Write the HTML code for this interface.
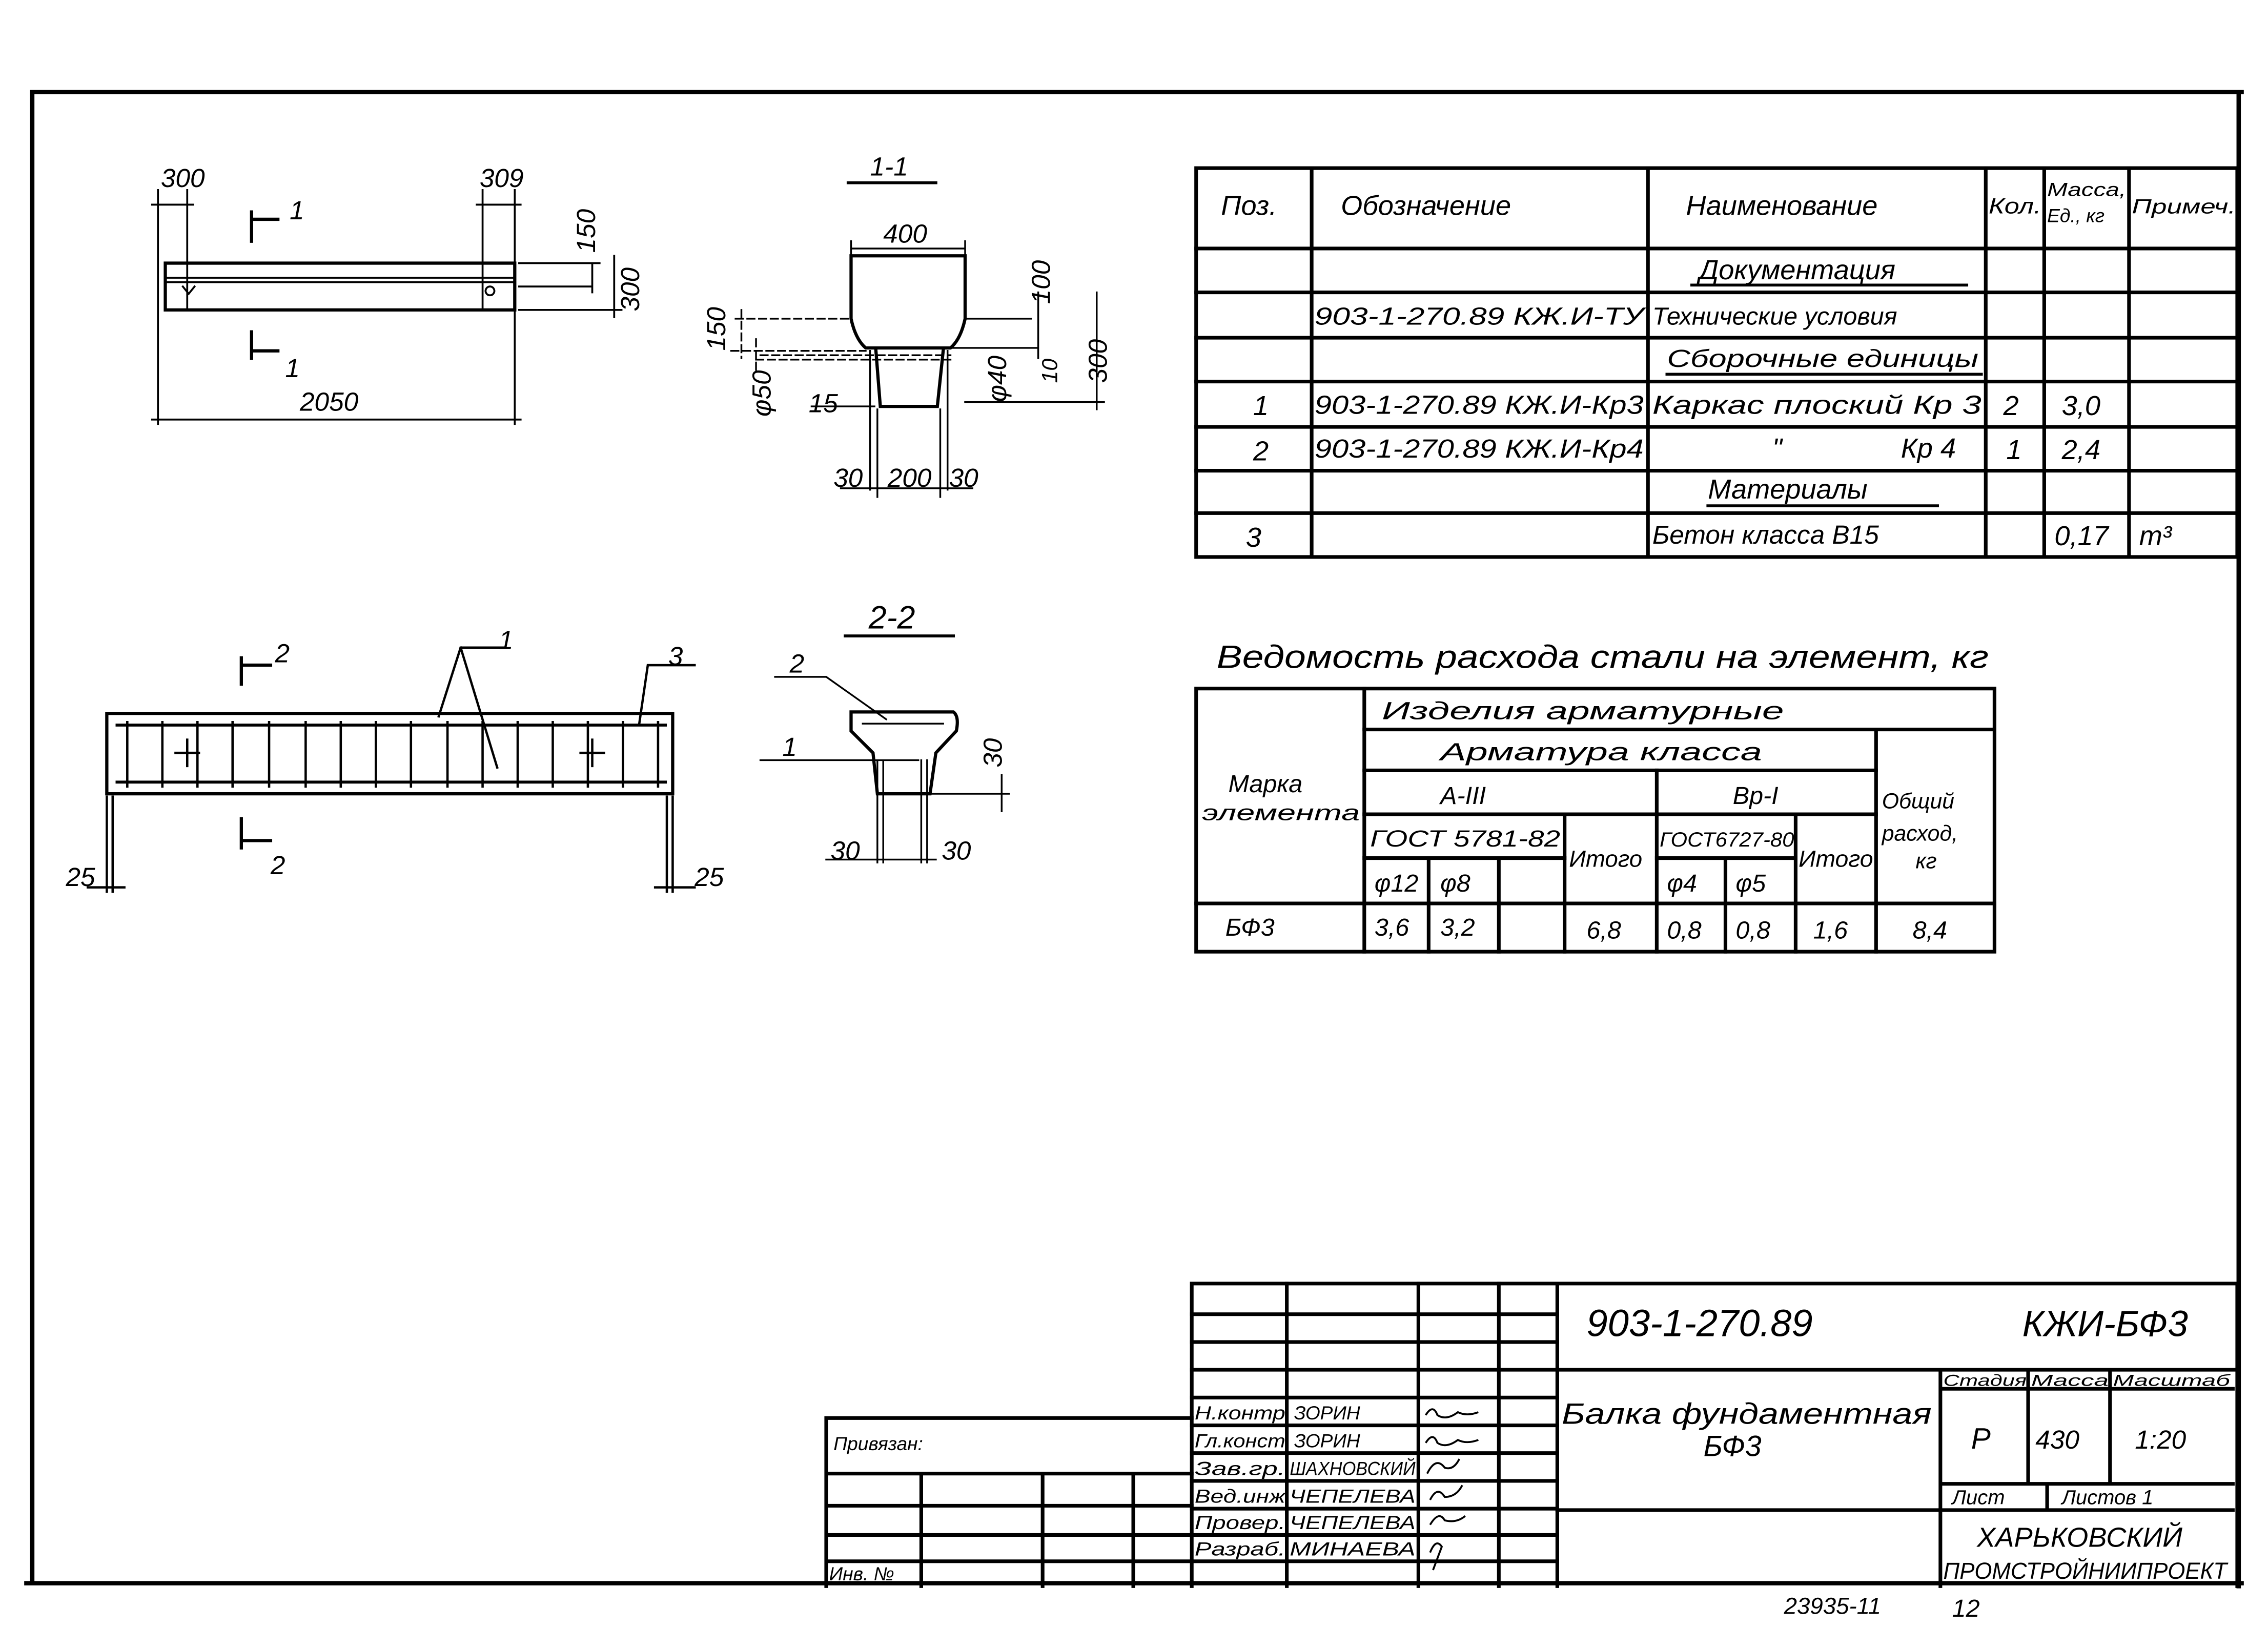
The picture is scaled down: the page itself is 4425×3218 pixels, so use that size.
<!DOCTYPE html>
<html><head><meta charset="utf-8"><style>
html,body{margin:0;padding:0;background:#fff}
svg{display:block}
text{font-family:"Liberation Sans","DejaVu Sans",sans-serif;font-style:italic;fill:#000}
</style></head><body>
<svg width="4425" height="3218" viewBox="0 0 1551 1128" xmlns="http://www.w3.org/2000/svg">
<rect width="1551" height="1128" fill="#fff"/>
<g stroke="#000" fill="none" stroke-linecap="square">
<!-- frame -->
<path d="M22 63 H1533 M22 63 V1083 M18 1083 H1533 M1531 63 V1085" stroke-width="3"/>

<!-- spec table -->
<g stroke-width="2.5">
<rect x="818" y="115" width="712" height="266"/>
<path d="M818 170 H1530 M818 200 H1530 M818 231 H1530 M818 261 H1530 M818 292 H1530 M818 322 H1530 M818 351 H1530"/>
<path d="M897 115 V381 M1127 115 V381 M1358 115 V381 M1398 115 V381 M1456 115 V381"/>
</g>
<path d="M1157 195 H1345 M1140 256 H1355 M1168 346 H1325" stroke-width="2"/>

<!-- steel table -->
<g stroke-width="2.5">
<rect x="818" y="471" width="546" height="180"/>
<path d="M818 618 H1364 M933 499 H1364 M933 527 H1283 M933 557 H1283 M933 587 H1070 M1133 587 H1228"/>
<path d="M933 471 V651 M1283 499 V651 M1133 527 V651 M1070 557 V651 M1228 557 V651 M977 587 V651 M1025 587 V651 M1180 587 V651"/>
</g>

<!-- title block -->
<g stroke-width="2.5">
<path d="M815 878 H1530 M815 878 V1085 M1065 878 V1085 M1530 878 V1085"/>
<path d="M815 899 H1065 M815 918 H1065 M815 937 H1530 M815 956 H1065 M815 975 H1065 M815 994 H1065 M815 1013 H1065 M815 1032 H1065 M815 1050 H1065 M815 1068 H1065"/>
<path d="M880 878 V1085 M970 878 V1085 M1025 878 V1085"/>
<path d="M1327 937 V1085 M1327 950 H1527 M1327 1015 H1527 M1327 1033 H1527 M1065 1033 H1327 M1387 937 V1015 M1443 937 V1015 M1400 1015 V1033"/>
<path d="M565 970 H815 M565 970 V1085 M565 1008 H815 M565 1030 H815 M565 1050 H815 M565 1068 H815 M630 1008 V1085 M713 1008 V1085 M775 1008 V1085"/>
</g>

<!-- top beam elevation -->
<g stroke-width="2.2">
<rect x="113" y="180" width="239" height="32"/>
<path d="M113 190 H352 M113 193 H352" stroke-width="1.3"/>
</g>
<g stroke-width="1.3">
<path d="M108 130 V290 M128 130 V212 M330 130 V212 M352 130 V290 M104 140 H132 M326 140 H356 M104 287 H356"/>
<path d="M355 180 H410 M355 196 H405 M355 212 H425 M405 180 V200 M420 175 V217"/>
<path d="M125 196 l4 5 l4 -5 M335 196 a3 3 0 1 0 0.1 0"/>
</g>
<path d="M172 145 V165 M172 150 H190 M172 227 V245 M172 240 H190" stroke-width="2.2"/>

<!-- section 1-1 -->
<path d="M580 125 H640" stroke-width="2"/>
<g stroke-width="2.2">
<path d="M582 175 V218 Q585 232 592 238 H650 Q657 232 660 218 V175 Z"/>
<path d="M599 240 L602 278 H641 L645 240"/>
</g>
<g stroke-width="1.2">
<path d="M582 170 H660 M582 165 V175 M660 165 V175 M660 218 H705 M650 238 H710 M660 275 H755 M710 200 V245 M750 200 V280"/>
<path d="M503 218 H582 M500 240 H592 M507 212 V245 M517 232 V255 M517 246 H650 M520 243 H650" stroke-dasharray="5 3"/>
<path d="M595 240 V335 M600 280 V340 M643 280 V340 M648 240 V335 M575 334 H665 M555 278 H598"/>
</g>

<!-- bottom beam elevation -->
<g stroke-width="2.2">
<rect x="73" y="488" width="387" height="55"/>
<path d="M80 496 H455 M80 535 H455" stroke-width="2"/>
</g>
<g stroke-width="1.6">
<path d="M87 494 V538 M111 494 V538 M135 494 V538 M159 494 V538 M184 494 V538 M209 494 V538 M233 494 V538 M257 494 V538 M281 494 V538 M306 494 V538 M330 494 V538 M354 494 V538 M378 494 V538 M402 494 V538 M426 494 V538 M450 494 V538"/>
<path d="M128 506 V524 M120 515 H136 M405 506 V524 M397 515 H413"/>
<path d="M73 545 V610 M77 545 V610 M456 545 V610 M460 545 V610 M60 607 H85 M448 607 H475"/>
<path d="M300 490 L315 443 H345 M315 443 L340 525 M437 496 L443 455 H475"/>
</g>
<path d="M165 450 V468 M165 455 H185 M165 560 V580 M165 575 H185" stroke-width="2.2"/>

<!-- section 2-2 -->
<path d="M578 435 H652" stroke-width="2"/>
<g stroke-width="2.2">
<path d="M582 487 H652 Q656 490 654 500 L640 515 L636 543 H600 L597 515 L582 500 Z"/>
</g>
<g stroke-width="1.2">
<path d="M530 463 H565 L606 492 M520 520 H628 M590 495 H645 M600 520 V590 M604 520 V590 M630 520 V590 M634 520 V590 M636 543 H690 M685 530 V555 M565 588 H640"/>
</g>
</g>

<!-- spec table text -->
<g font-size="19">
<text x="835" y="147">Поз.</text>
<text x="917" y="147">Обозначение</text>
<text x="1153" y="147">Наименование</text>
<text x="1360" y="146" font-size="15" textLength="36" lengthAdjust="spacingAndGlyphs">Кол.</text>
<text x="1400" y="134" font-size="13" textLength="54" lengthAdjust="spacingAndGlyphs">Масса,</text>
<text x="1400" y="152" font-size="13">Ед., кг</text>
<text x="1458" y="146" font-size="14" textLength="71" lengthAdjust="spacingAndGlyphs">Примеч.</text>
<text x="1162" y="191">Документация</text>
<text x="899" y="222" font-size="17" textLength="225" lengthAdjust="spacingAndGlyphs">903-1-270.89   КЖ.И-ТУ</text>
<text x="1130" y="222" font-size="17">Технические условия</text>
<text x="1140" y="251" font-size="17" textLength="213" lengthAdjust="spacingAndGlyphs">Сборочные единицы</text>
<text x="857" y="284">1</text>
<text x="899" y="283" font-size="18" textLength="225" lengthAdjust="spacingAndGlyphs">903-1-270.89 КЖ.И-Кр3</text>
<text x="1130" y="283" font-size="18" textLength="225" lengthAdjust="spacingAndGlyphs">Каркас плоский  Кр 3</text>
<text x="1370" y="284">2</text><text x="1410" y="284">3,0</text>
<text x="857" y="315">2</text>
<text x="899" y="313" font-size="18" textLength="225" lengthAdjust="spacingAndGlyphs">903-1-270.89 КЖ.И-Кр4</text>
<text x="1212" y="313">"</text><text x="1300" y="313">Кр 4</text>
<text x="1372" y="314">1</text><text x="1410" y="314">2,4</text>
<text x="1168" y="341">Материалы</text>
<text x="852" y="374">3</text>
<text x="1130" y="372" font-size="18">Бетон класса  В15</text>
<text x="1405" y="373">0,17</text><text x="1463" y="373">m³</text>
</g>

<!-- steel table text -->
<text x="832" y="457" font-size="22" textLength="528" lengthAdjust="spacingAndGlyphs">Ведомость расхода стали на элемент, кг</text>
<g font-size="17">
<text x="945" y="492" textLength="275" lengthAdjust="spacingAndGlyphs">Изделия арматурные</text>
<text x="985" y="520" textLength="220" lengthAdjust="spacingAndGlyphs">Арматура класса</text>
<text x="840" y="542">Марка</text>
<text x="822" y="561" font-size="15" textLength="108" lengthAdjust="spacingAndGlyphs">элемента</text>
<text x="985" y="550">А-III</text>
<text x="1185" y="550">Вр-I</text>
<text x="937" y="579" font-size="16" textLength="130" lengthAdjust="spacingAndGlyphs">ГОСТ 5781-82</text>
<text x="1135" y="579" font-size="14" textLength="92" lengthAdjust="spacingAndGlyphs">ГОСТ6727-80</text>
<text x="1073" y="593" font-size="16">Итого</text>
<text x="1230" y="593" font-size="16" textLength="51" lengthAdjust="spacingAndGlyphs">Итого</text>
<text x="1287" y="553" font-size="15">Общий</text>
<text x="1287" y="575" font-size="15">расход,</text>
<text x="1310" y="594" font-size="15">кг</text>
<text x="940" y="610">φ12</text><text x="985" y="610">φ8</text>
<text x="1140" y="610">φ4</text><text x="1187" y="610">φ5</text>
<text x="838" y="640">БФ3</text>
<text x="940" y="640">3,6</text><text x="985" y="640">3,2</text>
<text x="1085" y="642">6,8</text>
<text x="1140" y="642">0,8</text><text x="1187" y="642">0,8</text>
<text x="1240" y="642">1,6</text><text x="1308" y="642">8,4</text>
</g>

<!-- title block text -->
<text x="1085" y="914" font-size="26">903-1-270.89</text>
<text x="1383" y="914" font-size="25" font-style="normal">КЖИ-БФ3</text>
<text x="1068" y="974" font-size="20" textLength="253" lengthAdjust="spacingAndGlyphs">Балка фундаментная</text>
<text x="1165" y="996" font-size="20">БФ3</text>
<text x="1329" y="948" font-size="11" textLength="57" lengthAdjust="spacingAndGlyphs">Стадия</text>
<text x="1389" y="948" font-size="11" textLength="53" lengthAdjust="spacingAndGlyphs">Масса</text>
<text x="1445" y="948" font-size="11" textLength="80" lengthAdjust="spacingAndGlyphs">Масштаб</text>
<text x="1348" y="991" font-size="20">Р</text>
<text x="1392" y="991" font-size="18">430</text>
<text x="1460" y="991" font-size="18">1:20</text>
<text x="1335" y="1029" font-size="14">Лист</text>
<text x="1410" y="1029" font-size="14">Листов 1</text>
<text x="1352" y="1058" font-size="19" font-style="normal">ХАРЬКОВСКИЙ</text>
<text x="1329" y="1080" font-size="16" font-style="normal" textLength="194" lengthAdjust="spacingAndGlyphs">ПРОМСТРОЙНИИПРОЕКТ</text>
<g font-size="13">
<text x="817" y="971" textLength="62" lengthAdjust="spacingAndGlyphs">Н.контр</text><text x="885" y="971">ЗОРИН</text>
<text x="817" y="990" textLength="62" lengthAdjust="spacingAndGlyphs">Гл.конст</text><text x="885" y="990">ЗОРИН</text>
<text x="817" y="1009" textLength="62" lengthAdjust="spacingAndGlyphs">Зав.гр.</text><text x="882" y="1009" textLength="86" lengthAdjust="spacingAndGlyphs">ШАХНОВСКИЙ</text>
<text x="817" y="1028" textLength="62" lengthAdjust="spacingAndGlyphs">Вед.инж</text><text x="882" y="1028" textLength="86" lengthAdjust="spacingAndGlyphs">ЧЕПЕЛЕВА</text>
<text x="817" y="1046" textLength="62" lengthAdjust="spacingAndGlyphs">Провер.</text><text x="882" y="1046" textLength="86" lengthAdjust="spacingAndGlyphs">ЧЕПЕЛЕВА</text>
<text x="817" y="1064" textLength="62" lengthAdjust="spacingAndGlyphs">Разраб.</text><text x="882" y="1064" textLength="86" lengthAdjust="spacingAndGlyphs">МИНАЕВА</text>
<text x="570" y="992">Привязан:</text>
<text x="567" y="1081">Инв. №</text>
</g>
<g stroke="#000" fill="none" stroke-width="1.3">
<path d="M975 968 q5 -8 8 0 q6 4 14 -2 q6 3 14 0 M975 987 q5 -8 8 0 q6 4 14 -2 q6 3 14 0 M976 1008 q6 -12 12 -4 q6 2 10 -6 M978 1026 q5 -10 10 -2 q8 0 12 -8 M978 1043 q6 -10 10 -3 q8 2 14 -3 M978 1062 q4 -10 8 -4 l-6 16"/>
</g>
<text x="1220" y="1104" font-size="16">23935-11</text>
<text x="1335" y="1106" font-size="17">12</text>

<!-- drawing labels -->
<g font-size="18">
<text x="110" y="128">300</text><text x="328" y="128">309</text>
<text x="198" y="150">1</text><text x="195" y="258">1</text>
<text x="205" y="281">2050</text>
<text x="0" y="0" transform="translate(407 173) rotate(-90)">150</text>
<text x="0" y="0" transform="translate(437 213) rotate(-90)">300</text>
<text x="595" y="120">1-1</text>
<text x="604" y="166">400</text>
<text x="0" y="0" transform="translate(718 208) rotate(-90)">100</text>
<text x="0" y="0" transform="translate(496 240) rotate(-90)">150</text>
<text x="0" y="0" transform="translate(723 262) rotate(-90)" font-size="15">10</text>
<text x="0" y="0" transform="translate(757 262) rotate(-90)">300</text>
<text x="0" y="0" transform="translate(527 285) rotate(-90)">φ50</text>
<text x="0" y="0" transform="translate(688 275) rotate(-90)">φ40</text>
<text x="553" y="282">15</text>
<text x="570" y="333">30</text><text x="607" y="333">200</text><text x="649" y="333">30</text>
<text x="188" y="453">2</text><text x="185" y="598">2</text>
<text x="341" y="444">1</text><text x="457" y="455">3</text>
<text x="45" y="606">25</text><text x="475" y="606">25</text>
<text x="594" y="430" font-size="22">2-2</text>
<text x="540" y="460">2</text><text x="535" y="517">1</text>
<text x="0" y="0" transform="translate(685 525) rotate(-90)">30</text>
<text x="568" y="588">30</text><text x="644" y="588">30</text>
</g>
</svg>
</body></html>
